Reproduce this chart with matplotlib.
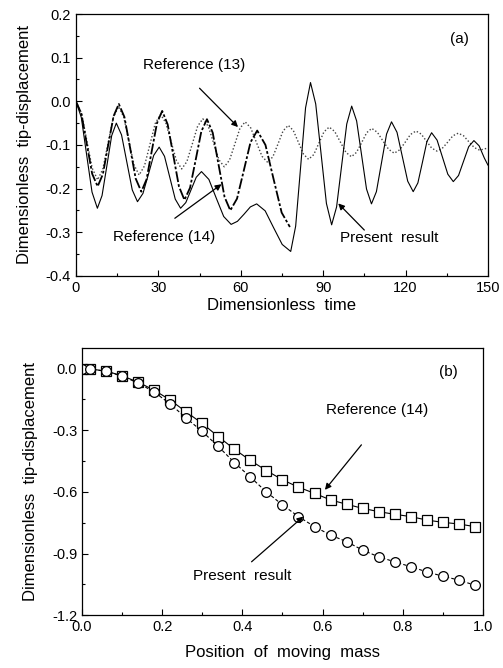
import matplotlib
matplotlib.use("Agg")
import matplotlib.pyplot as plt
from matplotlib.ticker import MultipleLocator, FormatStrFormatter

plt.rcParams['font.family'] = ['Liberation Sans', 'DejaVu Sans']
plt.rcParams['axes.unicode_minus'] = False

# ---------------- Panel (a) data ----------------
t_present = [0.0, 1.95, 3.9, 5.85, 7.8, 9.5, 11.25, 13.0, 14.7, 16.6, 18.55, 20.5, 22.4,
             24.4, 26.35, 28.3, 30.3, 32.25, 34.2, 36.15, 38.1, 40.0, 41.9, 43.8, 45.7,
             48.4, 51.1, 53.8, 56.5, 58.8, 61.15, 63.5, 65.8, 68.9, 72.0, 75.1, 78.2,
             80.0, 81.8, 83.6, 85.4, 87.3, 89.25, 91.2, 93.1, 94.9, 96.75, 98.6, 100.4,
             102.2, 104.0, 105.8, 107.6, 109.4, 111.25, 113.1, 114.9, 116.9, 118.85, 120.8,
             122.8, 124.5, 126.15, 127.8, 129.5, 131.5, 133.45, 135.4, 137.4, 139.3, 141.15,
             143.0, 144.9, 146.8, 148.7, 150.0]
v_present = [0.0, -0.037, -0.123, -0.208, -0.245, -0.216, -0.148, -0.079, -0.05, -0.077, -0.14,
             -0.203, -0.23, -0.211, -0.168, -0.124, -0.105, -0.126, -0.175, -0.224, -0.245,
             -0.232, -0.203, -0.174, -0.161, -0.179, -0.222, -0.264, -0.282, -0.275, -0.259,
             -0.242, -0.235, -0.251, -0.29, -0.328, -0.344, -0.286, -0.151, -0.015, 0.043,
             -0.006, -0.12, -0.234, -0.283, -0.242, -0.147, -0.052, -0.011, -0.045, -0.123,
             -0.201, -0.235, -0.207, -0.141, -0.075, -0.047, -0.071, -0.127, -0.183, -0.207,
             -0.187, -0.14, -0.092, -0.072, -0.089, -0.128, -0.167, -0.184, -0.17, -0.137,
             -0.104, -0.09, -0.102, -0.13, -0.146]

t_ref14 = [0.0, 2.0, 3.95, 5.9, 7.9, 9.8, 11.75, 13.7, 15.6, 17.65, 19.7, 21.75, 23.8, 25.7,
           27.6, 29.5, 31.4, 33.4, 35.45, 37.5, 39.5, 41.55, 43.6, 45.65, 47.7, 49.8, 51.95,
           54.1, 56.2, 58.65, 61.1, 63.55, 66.0, 69.0, 71.95, 74.9, 77.9]
v_ref14 = [0.0, -0.029, -0.098, -0.166, -0.195, -0.167, -0.1, -0.034, -0.006, -0.036, -0.106,
           -0.177, -0.207, -0.179, -0.114, -0.05, -0.022, -0.053, -0.124, -0.195, -0.226,
           -0.198, -0.134, -0.069, -0.041, -0.072, -0.146, -0.219, -0.25, -0.223, -0.159,
           -0.094, -0.067, -0.1, -0.178, -0.255, -0.288]

t_ref13 = [0.0, 2.0, 3.95, 5.9, 7.9, 9.8, 11.7, 13.6, 15.5, 17.4, 19.25, 21.1, 23.0, 24.95,
           26.9, 28.85, 30.8, 32.7, 34.65, 36.6, 38.5, 40.4, 42.35, 44.3, 46.2, 48.15, 50.1,
           52.05, 54.0, 55.9, 57.8, 59.7, 61.6, 63.65, 65.7, 67.75, 69.8, 71.7, 73.55, 75.4,
           77.3, 79.15, 81.0, 82.85, 84.7, 86.6, 88.45, 90.3, 92.2, 94.2, 96.25, 98.3, 100.3,
           102.15, 104.0, 105.85, 107.7, 109.75, 111.8, 113.85, 115.9, 117.9, 119.85, 121.8,
           123.8, 125.7, 127.6, 129.5, 131.4, 133.35, 135.3, 137.25, 139.2, 141.15, 143.1,
           145.05, 147.0, 150.0]
v_ref13 = [0.0, -0.027, -0.09, -0.153, -0.18, -0.155, -0.096, -0.037, -0.012, -0.036, -0.09,
           -0.145, -0.169, -0.148, -0.1, -0.051, -0.03, -0.049, -0.093, -0.136, -0.155, -0.138,
           -0.098, -0.057, -0.04, -0.057, -0.095, -0.134, -0.15, -0.135, -0.099, -0.062, -0.047,
           -0.061, -0.094, -0.126, -0.14, -0.127, -0.098, -0.068, -0.055, -0.067, -0.094,
           -0.121, -0.133, -0.122, -0.096, -0.07, -0.059, -0.069, -0.093, -0.117, -0.127,
           -0.117, -0.095, -0.072, -0.062, -0.071, -0.091, -0.11, -0.119, -0.111, -0.094,
           -0.076, -0.068, -0.075, -0.091, -0.107, -0.114, -0.108, -0.094, -0.079, -0.073,
           -0.079, -0.093, -0.106, -0.112, -0.107]

# ---------------- Panel (b) data ----------------
pos = [0.0, 0.02, 0.06, 0.10, 0.14, 0.18, 0.22, 0.26, 0.30, 0.34, 0.38, 0.42, 0.46,
       0.50, 0.54, 0.58, 0.62, 0.66, 0.70, 0.74, 0.78, 0.82, 0.86, 0.90, 0.94, 0.98]
disp_present = [0.0, -0.003, -0.013, -0.037, -0.07, -0.114, -0.172, -0.241, -0.306, -0.379,
                -0.457, -0.528, -0.60, -0.663, -0.72, -0.769, -0.81, -0.842, -0.883, -0.916,
                -0.94, -0.964, -0.989, -1.01, -1.029, -1.054]
disp_ref14 = [0.0, -0.002, -0.012, -0.035, -0.066, -0.105, -0.153, -0.211, -0.267, -0.331,
              -0.392, -0.447, -0.496, -0.541, -0.577, -0.607, -0.639, -0.66, -0.68, -0.696,
              -0.709, -0.72, -0.737, -0.748, -0.756, -0.769]

fig = plt.figure(figsize=(5.03, 6.68), dpi=100)
ax1 = fig.add_axes([0.151, 0.587, 0.819, 0.392])
ax2 = fig.add_axes([0.163, 0.079, 0.797, 0.400])

TICK_FS = 10.5
LAB_FS = 12
ANN_FS = 11

# Panel (a)
ax1.plot(t_ref13, v_ref13, color='#444444', lw=1.0, ls=(0, (1, 1.5)))
ax1.plot(t_ref14, v_ref14, color='black', lw=1.3, ls=(0, (6, 1.2, 1.5, 1.2)))
ax1.plot(t_present, v_present, color='black', lw=0.8, ls='-')
ax1.set_xlim(0, 150)
ax1.set_ylim(-0.4, 0.2)
ax1.xaxis.set_major_locator(MultipleLocator(30))
ax1.xaxis.set_minor_locator(MultipleLocator(15))
ax1.yaxis.set_major_locator(MultipleLocator(0.1))
ax1.yaxis.set_minor_locator(MultipleLocator(0.05))
ax1.yaxis.set_major_formatter(FormatStrFormatter('%.1f'))
ax1.set_xlabel('Dimensionless  time', fontsize=LAB_FS, labelpad=2)
ax1.set_ylabel('Dimensionless  tip-displacement', fontsize=LAB_FS, labelpad=10)
ax1.text(0.93, 0.905, '(a)', transform=ax1.transAxes, fontsize=ANN_FS, ha='center', va='center')

arrow = dict(arrowstyle='-|>', color='black', lw=0.9, mutation_scale=9, shrinkA=0, shrinkB=0)
ax1.text(43, 0.083, 'Reference (13)', fontsize=ANN_FS, ha='center', va='center')
ax1.annotate('', xy=(59, -0.059), xytext=(45, 0.03), arrowprops=arrow)
ax1.text(32, -0.311, 'Reference (14)', fontsize=ANN_FS, ha='center', va='center')
ax1.annotate('', xy=(53, -0.19), xytext=(36, -0.268), arrowprops=arrow)
ax1.text(114, -0.313, 'Present  result', fontsize=ANN_FS, ha='center', va='center')
ax1.annotate('', xy=(95.5, -0.234), xytext=(105, -0.295), arrowprops=arrow)

# Panel (b)
ax2.plot(pos, disp_ref14, color='black', lw=0.8, ls='-', marker='s', markersize=6.5,
         markerfacecolor='white', markeredgecolor='black', markeredgewidth=0.9)
ax2.plot(pos, disp_present, color='black', lw=0.8, ls=(0, (3, 2)), marker='o', markersize=7,
         markerfacecolor='white', markeredgecolor='black', markeredgewidth=0.9)
ax2.set_xlim(0, 1.0)
ax2.set_ylim(-1.2, 0.1)
ax2.xaxis.set_major_locator(MultipleLocator(0.2))
ax2.xaxis.set_minor_locator(MultipleLocator(0.1))
ax2.yaxis.set_major_locator(MultipleLocator(0.3))
ax2.yaxis.set_minor_locator(MultipleLocator(0.15))
ax2.xaxis.set_major_formatter(FormatStrFormatter('%.1f'))
ax2.yaxis.set_major_formatter(FormatStrFormatter('%.1f'))
ax2.set_xlabel('Position  of  moving  mass', fontsize=LAB_FS, labelpad=8)
ax2.set_ylabel('Dimensionless  tip-displacement', fontsize=LAB_FS, labelpad=10)
ax2.text(0.915, 0.91, '(b)', transform=ax2.transAxes, fontsize=ANN_FS, ha='center', va='center')

ax2.text(0.735, -0.2, 'Reference (14)', fontsize=ANN_FS, ha='center', va='center')
ax2.annotate('', xy=(0.606, -0.59), xytext=(0.697, -0.371), arrowprops=arrow)
ax2.text(0.40, -1.01, 'Present  result', fontsize=ANN_FS, ha='center', va='center')
ax2.annotate('', xy=(0.552, -0.72), xytext=(0.423, -0.94), arrowprops=arrow)

for ax in (ax1, ax2):
    ax.tick_params(which='both', direction='in', top=False, right=False, labelsize=TICK_FS)
    ax.tick_params(which='major', length=4, width=0.8)
    ax.tick_params(which='minor', length=2, width=0.8)
    for s in ax.spines.values():
        s.set_linewidth(0.9)

fig.savefig('out.png', dpi=100)
